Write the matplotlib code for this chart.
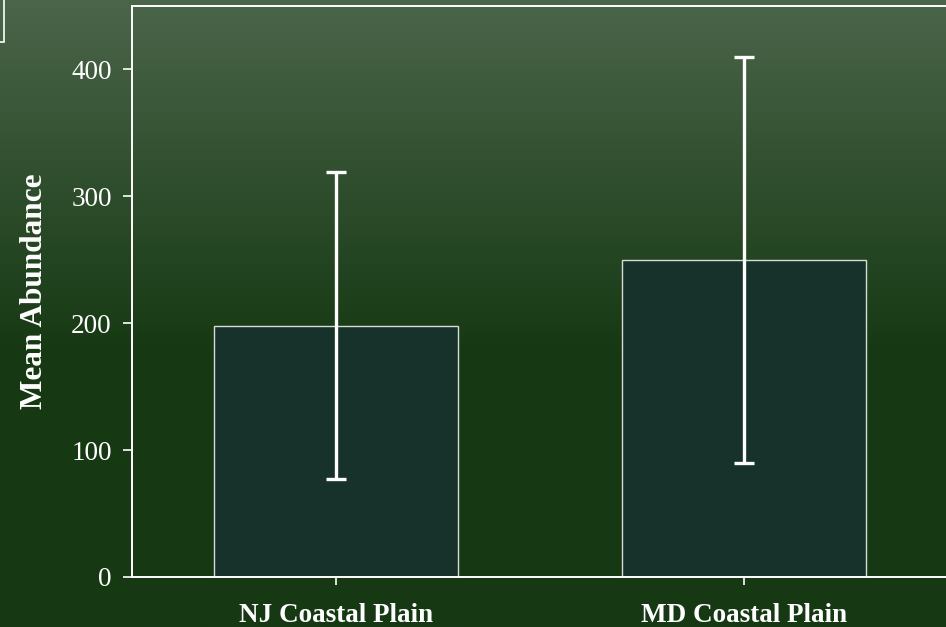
import numpy as np
import matplotlib.pyplot as plt
from matplotlib.colors import LinearSegmentedColormap
from matplotlib.patches import Rectangle

sites = ["NJ Coastal Plain", "MD Coastal Plain"]
mean_abundance = [198, 250]
error = [121, 160]
y_ticks = [0, 100, 200, 300, 400]

plt.rcParams["font.family"] = ["Liberation Serif", "DejaVu Serif"]

W, H = 946, 627
fig = plt.figure(figsize=(W / 100, H / 100), dpi=100)

# gradient background over whole figure
bg = fig.add_axes([0, 0, 1, 1], zorder=-10)
cmap = LinearSegmentedColormap.from_list(
    "bg", [(0.0, "#4b654a"), (0.55, "#173a14"), (1.0, "#163914")]
)
grad = np.linspace(0, 1, 256).reshape(-1, 1)
bg.imshow(grad, aspect="auto", cmap=cmap, extent=[0, 1, 0, 1], origin="upper")
bg.set_xlim(0, 1)
bg.set_ylim(0, 1)
bg.axis("off")
# cropped box in the top-left corner
bg.add_patch(Rectangle((-0.01, 1 - 42 / H), 4 / W + 0.01, 0.1,
                       fill=False, edgecolor="white", lw=1.2))

ax = fig.add_axes([132 / W, 50 / H, 816 / W, 571 / H])
ax.patch.set_visible(False)
x = np.arange(len(sites))
ax.bar(x, mean_abundance, width=0.6, color="#17322a", edgecolor="#d8dcd8",
       linewidth=1.0, zorder=2)
ax.errorbar(x, mean_abundance, yerr=error, fmt="none", ecolor="white",
            elinewidth=2.4, capsize=7.5, capthick=2.4, zorder=3)

ax.set_xlim(-0.5, 1.5)
ax.set_ylim(0, 450)
ax.set_yticks(y_ticks)
ax.set_xticks(x)
ax.set_xticklabels(sites, fontweight="bold")
ax.tick_params(axis="both", colors="white", labelsize=19.5, direction="out",
               width=1.2)
ax.tick_params(axis="y", length=6.5, pad=8)
ax.tick_params(axis="x", length=6, pad=13)
ax.set_ylabel("Mean Abundance", color="white", fontsize=22.5, fontweight="bold")
ax.yaxis.set_label_coords(-0.102, 0.5)
for side in ["left", "bottom", "top", "right"]:
    ax.spines[side].set_color("white")
    ax.spines[side].set_linewidth(1.4)

fig.savefig("out.png", dpi=100)
